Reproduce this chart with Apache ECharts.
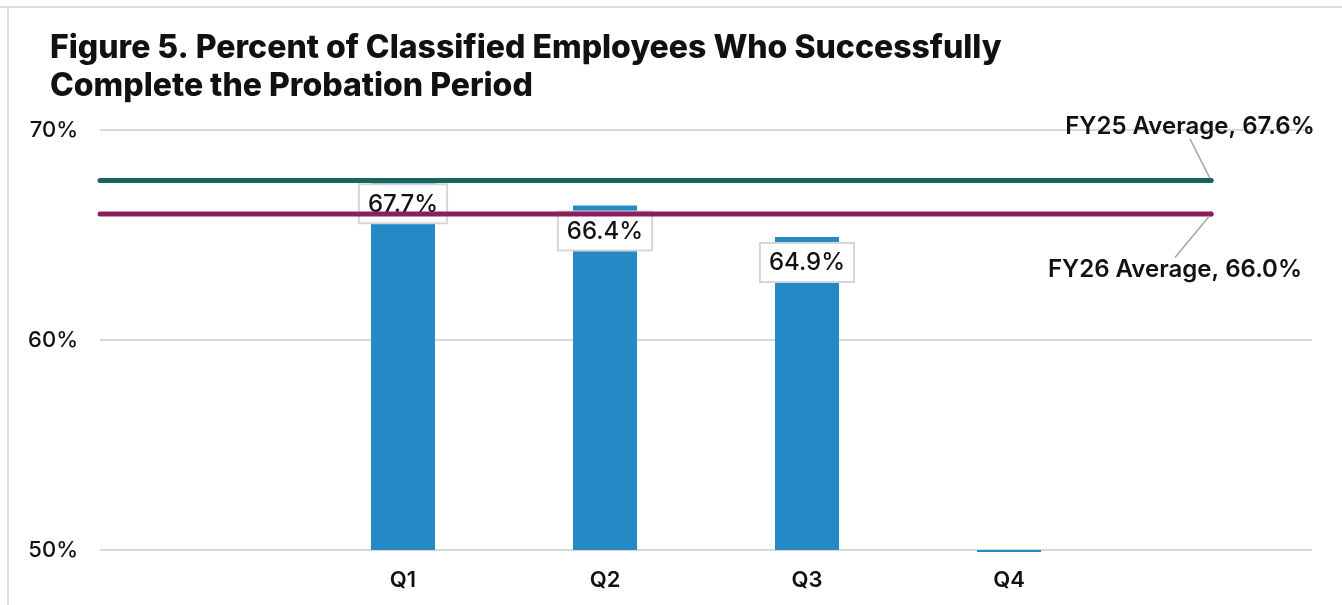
<!DOCTYPE html>
<html>
<head>
<meta charset="utf-8">
<script src="https://cdn.jsdelivr.net/npm/echarts@6/dist/echarts.min.js"></script>
<style>
  html, body { margin: 0; padding: 0; background: #fff; }
  #chart { width: 1342px; height: 605px; }
</style>
</head>
<body>
<div id="chart"></div>
<script>
// Quarters, with empty slots on either side of the four quarters
const categories = ['', 'Q1', 'Q2', 'Q3', 'Q4', ''];
// Percent of classified employees completing probation, per quarter
const quarterValues = [null, 67.7, 66.4, 64.9, 49.9, null];
// Which quarters carry a value label
const labelledQuarters = ['Q1', 'Q2', 'Q3'];
// Fiscal-year averages
const fy25Average = 67.6;
const fy26Average = 66.0;
const averageNames = ['FY25 Average', 'FY26 Average'];
// Value-axis ticks
const yTicks = [50, 60, 70];

const FONT = 'Inter, "Noto Sans", sans-serif';
const chart = echarts.init(document.getElementById('chart'), null, { renderer: 'canvas' });

// Average lines run from the left edge of the plot to the centre of the last slot
function averageLine(value) {
  return [[0, value], [categories.length - 0.5, value]];
}

chart.setOption({
  animation: false,
  backgroundColor: '#fff',
  title: {
    text: 'Figure 5. Percent of Classified Employees Who Successfully\nComplete the Probation Period',
    left: 45,
    top: 24,
    textStyle: {
      fontFamily: FONT,
      fontSize: 32,
      fontWeight: 800,
      color: '#111',
      lineHeight: 38
    }
  },
  graphic: [
    { type: 'line', shape: { x1: 0, y1: 7, x2: 1342, y2: 7 }, style: { stroke: '#dcdcdc', lineWidth: 2 } },
    { type: 'line', shape: { x1: 8, y1: 7, x2: 8, y2: 605 }, style: { stroke: '#dcdcdc', lineWidth: 2 } }
  ],
  grid: { left: 100, right: 30, top: 130, bottom: 55, containLabel: false },
  xAxis: [
    {
      type: 'category',
      data: categories,
      axisLine: { show: false },
      axisTick: { show: false },
      axisLabel: { margin: 19, fontFamily: FONT, fontSize: 22, fontWeight: 600, color: '#111' }
    },
    {
      type: 'value',
      min: 0,
      max: categories.length,
      show: false
    }
  ],
  yAxis: {
    type: 'value',
    min: yTicks[0],
    max: yTicks[yTicks.length - 1],
    interval: yTicks[1] - yTicks[0],
    startValue: yTicks[0],
    axisLine: { show: false },
    axisTick: { show: false },
    splitLine: { lineStyle: { color: '#d9d9d9', width: 2 } },
    axisLabel: {
      margin: 22,
      fontFamily: FONT,
      fontSize: 22,
      fontWeight: 500,
      color: '#111',
      formatter: v => v + '%'
    }
  },
  series: [
    {
      type: 'bar',
      xAxisIndex: 0,
      barWidth: 64,
      clip: false,
      itemStyle: { color: '#2589c5' },
      data: quarterValues.map((v, i) => ({
        value: v,
        label: {
          show: labelledQuarters.includes(categories[i]),
          position: 'insideTop',
          distance: 7,
          formatter: p => p.value.toFixed(1) + '%',
          fontFamily: FONT,
          fontSize: 24,
          fontWeight: 500,
          color: '#111',
          backgroundColor: '#fff',
          borderColor: '#d6d6d6',
          borderWidth: 2,
          padding: [7, 8, 6, 8]
        }
      })),
      z: 2
    },
    {
      type: 'line',
      name: averageNames[0],
      xAxisIndex: 1,
      symbol: 'circle',
      symbolSize: 5,
      lineStyle: { color: '#17655f', width: 5, cap: 'round' },
      itemStyle: { color: '#17655f' },
      data: averageLine(fy25Average).map((d, i) => ({
        value: d,
        symbolSize: i === 0 ? 0 : 5,
        label: {
          show: i === 1,
          position: 'top',
          distance: 5,
          formatter: averageNames[0] + ', ' + fy25Average.toFixed(1) + '%',
          fontFamily: FONT,
          fontSize: 24,
          fontWeight: 600,
          color: '#111'
        },
        labelLine: { show: i === 1, lineStyle: { color: '#a6a6a6', width: 1.5 } }
      })),
      labelLayout: { dx: -21, dy: -34 },
      z: 3
    },
    {
      type: 'line',
      name: averageNames[1],
      xAxisIndex: 1,
      symbol: 'circle',
      symbolSize: 5,
      lineStyle: { color: '#8b1f5e', width: 5, cap: 'round' },
      itemStyle: { color: '#8b1f5e' },
      data: averageLine(fy26Average).map((d, i) => ({
        value: d,
        symbolSize: i === 0 ? 0 : 5,
        label: {
          show: i === 1,
          position: 'bottom',
          distance: 5,
          formatter: averageNames[1] + ', ' + fy26Average.toFixed(1) + '%',
          fontFamily: FONT,
          fontSize: 24,
          fontWeight: 600,
          color: '#111'
        },
        labelLine: { show: i === 1, lineStyle: { color: '#a6a6a6', width: 1.5 } }
      })),
      labelLayout: { dx: -36, dy: 36 },
      z: 3
    }
  ]
});
</script>
</body>
</html>
